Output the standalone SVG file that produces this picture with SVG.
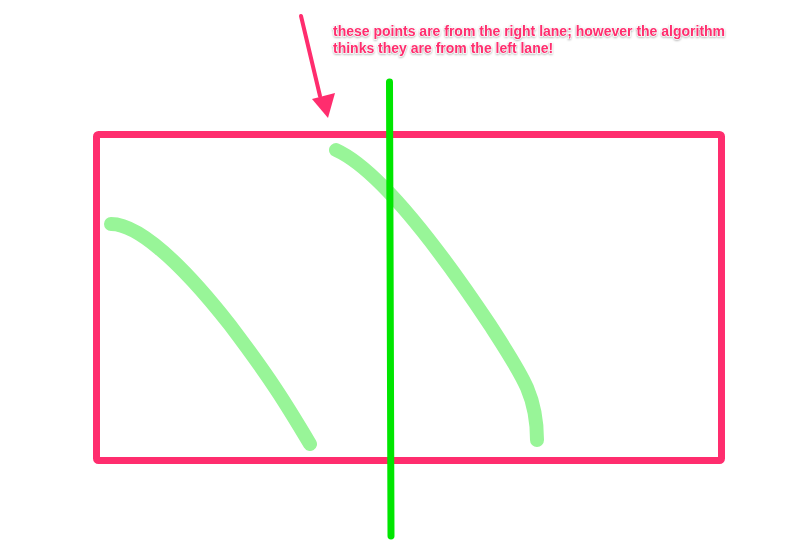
<svg xmlns="http://www.w3.org/2000/svg" width="800" height="544" viewBox="0 0 800 544">
<style>
.lane{fill:none;stroke:#98f598;stroke-width:14;stroke-linecap:round;stroke-linejoin:round}
.lbl{font-family:"Liberation Sans",Arial,sans-serif;font-weight:bold;font-size:14px;fill:#ff2d6e;stroke:#fff;stroke-width:1;paint-order:stroke}
</style>
<defs>
<filter id="sh" x="-5%" y="-30%" width="110%" height="160%"><feDropShadow dx="0" dy="1" stdDeviation="0.8" flood-color="#000" flood-opacity="0.35"/></filter>
</defs>
<g id="box"><rect x="96.5" y="134.5" width="625" height="326" rx="2" fill="none" stroke="#ff2d6e" stroke-width="7"/></g>
<g id="lane-left"><path class="lane" d="M111,224 C135,224 175,255 230,325 C270,378 285,402 310,444"/></g>
<g id="lane-right"><path class="lane" d="M336,150 C380,170 440,250 490,325 C522,375 537,395 537,440"/></g>
<g id="divider"><line x1="389.5" y1="82" x2="391" y2="536" stroke="#00e600" stroke-width="7" stroke-linecap="round"/></g>
<g id="connectors">
<path d="M301,16 L320,96" stroke="#ff2d6e" stroke-width="4" stroke-linecap="round" fill="none"/>
<polygon points="312,99 335,93 328,118" fill="#ff2d6e"/>
</g>
<g id="note" filter="url(#sh)">
<text class="lbl" x="333" y="36">these points are from the right lane; however the algorithm</text>
<text class="lbl" x="333" y="53">thinks they are from the left lane!</text>
</g>
</svg>
